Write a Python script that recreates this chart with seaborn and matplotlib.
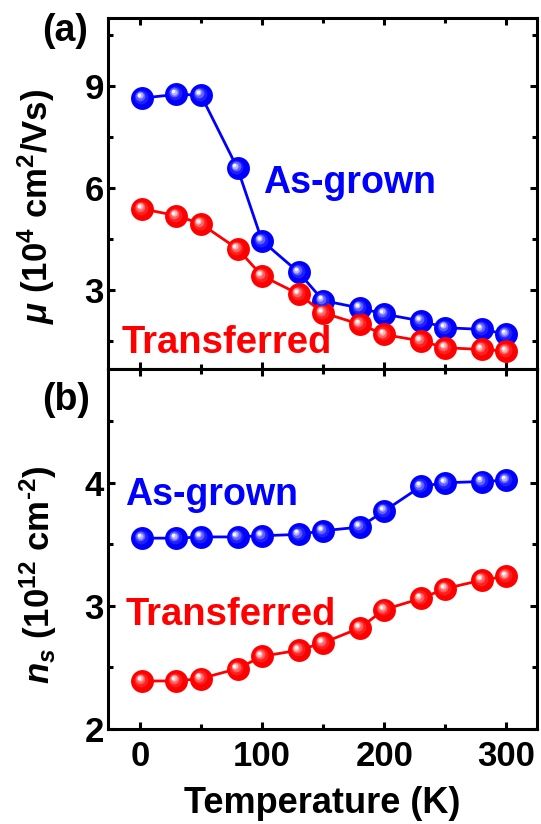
import numpy as np
import pandas as pd
import matplotlib
matplotlib.use("Agg")
import matplotlib.pyplot as plt
import matplotlib.transforms as mtransforms
from matplotlib.colors import to_rgb
from matplotlib.ticker import MultipleLocator
import seaborn as sns

# ---------------- data ----------------
temperature = [2, 30, 50, 80, 100, 130, 150, 180, 200, 230, 250, 280, 300]
mu_asgrown = [8.64, 8.75, 8.73, 6.57, 4.44, 3.51, 2.68, 2.46, 2.28, 2.08, 1.88, 1.83, 1.69]
mu_transferred = [5.38, 5.18, 4.94, 4.20, 3.41, 2.87, 2.32, 1.98, 1.68, 1.49, 1.29, 1.24, 1.19]
ns_asgrown = [3.55, 3.55, 3.56, 3.56, 3.57, 3.58, 3.61, 3.64, 3.77, 3.97, 4.00, 4.01, 4.02]
ns_transferred = [2.39, 2.39, 2.41, 2.49, 2.59, 2.64, 2.70, 2.82, 2.97, 3.06, 3.14, 3.21, 3.24]
series_labels = ["As-grown", "Transferred"]
series_colors = ["#0000ff", "#ff0000"]

sns.set_style("ticks")
plt.rcParams["font.family"] = ["Liberation Sans", "DejaVu Sans"]
plt.rcParams["font.weight"] = "bold"
plt.rcParams["text.color"] = "black"
plt.rcParams["axes.labelcolor"] = "black"
plt.rcParams["xtick.color"] = "black"
plt.rcParams["ytick.color"] = "black"
plt.rcParams["mathtext.fontset"] = "custom"
plt.rcParams["mathtext.rm"] = "Liberation Sans:bold"
plt.rcParams["mathtext.it"] = "Liberation Sans:italic:bold"
plt.rcParams["mathtext.bf"] = "Liberation Sans:bold"

fig = plt.figure(figsize=(5.41, 8.24), dpi=100)
ax1 = fig.add_axes([0.1996, 0.5516, 0.7930, 0.4266])
ax2 = fig.add_axes([0.1996, 0.1153, 0.7930, 0.4363])


def draw_series(ax, x, y, color):
    df = pd.DataFrame({"T": x, "v": y})
    sns.lineplot(data=df, x="T", y="v", ax=ax, color=color, lw=2.0,
                 marker="o", markersize=16.5, markeredgewidth=0,
                 markerfacecolor=color, zorder=3, legend=False)
    base = np.array(to_rgb(color))
    white = np.ones(3)
    layers = [(10.0, 0.12, 0.8), (7.0, 0.38, 1.4), (4.5, 0.7, 1.9), (2.6, 0.97, 2.2)]
    for size, mix, off in layers:
        tr = mtransforms.offset_copy(ax.transData, fig=ax.figure, x=-off, y=off, units="points")
        ax.plot(x, y, ls="none", marker="o", markersize=size, markeredgewidth=0,
                markerfacecolor=tuple(base * (1 - mix) + white * mix), transform=tr, zorder=4)


for ax, (a, b) in zip([ax1, ax2], [(mu_asgrown, mu_transferred), (ns_asgrown, ns_transferred)]):
    draw_series(ax, temperature, a, series_colors[0])
    draw_series(ax, temperature, b, series_colors[1])
    ax.set_xlim(-26, 325)
    ax.xaxis.set_major_locator(MultipleLocator(100))
    ax.xaxis.set_minor_locator(MultipleLocator(50))
    ax.tick_params(which="both", direction="in", top=True, right=True, width=2.2,
                   labelsize=25, pad=3, colors="black")
    ax.tick_params(which="major", length=5)
    ax.tick_params(which="minor", length=3.5)
    for sp in ax.spines.values():
        sp.set_linewidth(2.2)
        sp.set_color("black")

ax1.set_ylim(0.65, 11)
ax1.yaxis.set_major_locator(MultipleLocator(3))
ax1.yaxis.set_minor_locator(MultipleLocator(1.5))
ax1.tick_params(axis="x", labelbottom=False)
ax1.set_xlabel("")
ax1.set_ylabel(r"$\mathit{\mu}$ (10$^4$ cm$^2$/Vs)", fontsize=25, fontweight="bold")
ax1.yaxis.set_label_coords(-0.118, 0.465)

ax2.set_ylim(2, 4.92)
ax2.yaxis.set_major_locator(MultipleLocator(1))
ax2.yaxis.set_minor_locator(MultipleLocator(0.5))
ax2.tick_params(axis="x", pad=8)
ax2.set_xlabel("Temperature (K)", fontsize=26, fontweight="bold", labelpad=9)
ax2.set_ylabel("$\\mathit{n}_s$ (10$^{12}$ cm$^{\u20102}$)", fontsize=25, fontweight="bold")
ax2.yaxis.set_label_coords(-0.115, 0.43)

for lab in ax1.get_yticklabels() + ax2.get_yticklabels() + ax2.get_xticklabels():
    lab.set_fontweight("bold")

# series labels
ax1.text(0.361, 0.502, series_labels[0], color=series_colors[0], fontsize=27,
         fontweight="bold", transform=ax1.transAxes, ha="left", va="baseline")
ax1.text(0.032, 0.048, series_labels[1], color=series_colors[1], fontsize=27.5,
         fontweight="bold", transform=ax1.transAxes, ha="left", va="baseline")
ax2.text(0.04, 0.624, series_labels[0], color=series_colors[0], fontsize=27,
         fontweight="bold", transform=ax2.transAxes, ha="left", va="baseline")
ax2.text(0.04, 0.290, series_labels[1], color=series_colors[1], fontsize=27.5,
         fontweight="bold", transform=ax2.transAxes, ha="left", va="baseline")

# panel letters
fig.text(42 / 541, 1 - 41 / 824, "(a)", fontsize=27, fontweight="bold", ha="left", va="baseline")
fig.text(42 / 541, 1 - 410 / 824, "(b)", fontsize=27, fontweight="bold", ha="left", va="baseline")

fig.savefig("out.png", dpi=100)
